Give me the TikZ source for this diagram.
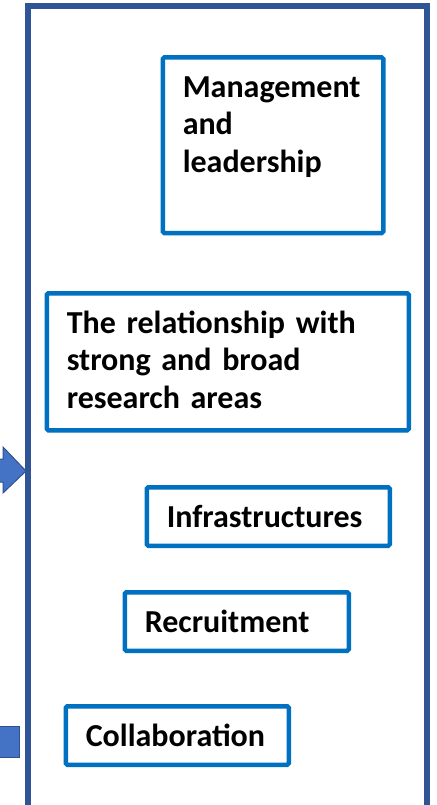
\documentclass[tikz,border=0pt]{standalone}
\usepackage{fontspec}
\setmainfont[WordSpace=0.75]{Carlito}
\definecolor{boxblue}{HTML}{0070C0}
\definecolor{frameblue}{HTML}{2F5597}
\definecolor{shapefill}{HTML}{4472C4}
\definecolor{shapeline}{HTML}{2F528F}
\begin{document}
\begin{tikzpicture}[x=1pt, y=-1pt, every node/.style={rectangle, draw=boxblue, line width=4.5pt, rounded corners=1.5pt, anchor=north west, inner xsep=20pt, inner ysep=0pt, text height=40pt, align=left, font=\bfseries\fontsize{32}{37.5}\selectfont}]
		\tikzstyle{tall} = [text width=180.5pt, text depth=135.5pt]
		\tikzstyle{wide} = [text width=322pt, text depth=97pt]
		\tikzstyle{single} = [text depth=18.5pt]
		\tikzstyle{arrowshape} = [fill=shapefill, draw=shapeline, line width=1pt]
		
		\clip (0,0) rectangle (436,805);
		\fill[white] (0,0) rectangle (436,805);
		
		\filldraw[arrowshape] (-20,459) -- (3,459) -- (3,447) -- (26,471) -- (3,493) -- (3,482) -- (-20,482) -- cycle;
		\filldraw[arrowshape] (-10,726) rectangle (19,757);
		\draw[frameblue, line width=6pt] (28,6) rectangle (427,840);
		
		\node[tall] (mgmt) at (160.5,55.25) {Management\\and\\leadership};
		\node[wide] (relation) at (44.5,291) {The relationship with\\strong and broad\\research areas};
		\node[single, text width=203pt] (infra) at (144.5,485) {Infrastructures};
		\node[single, text width=184pt] (recruit) at (122.5,590) {Recruitment};
		\node[single, text width=183pt] (collab) at (63.5,704) {Collaboration};
	\end{tikzpicture}
\end{document}
